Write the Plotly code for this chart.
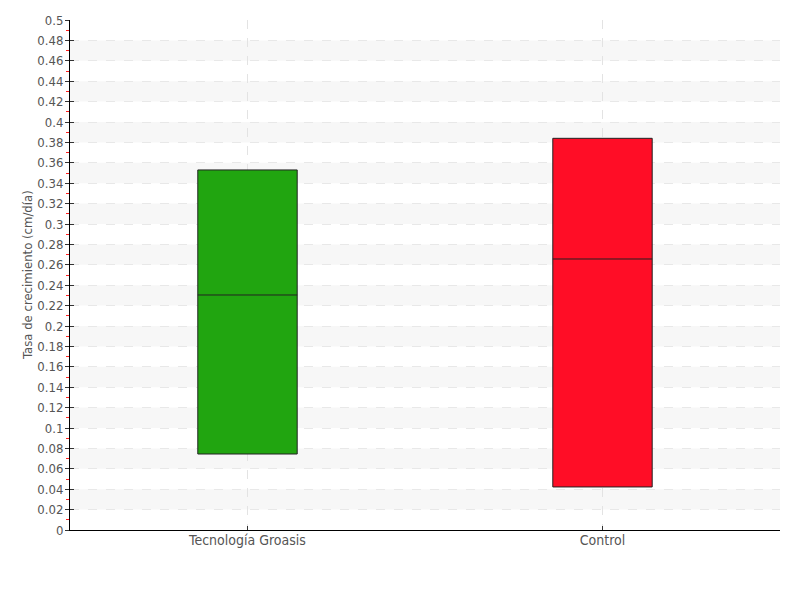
import plotly.graph_objects as go

grupos = ["Tecnología Groasis", "Control"]
q1 = [0.0745, 0.0422]
mediana = [0.2304, 0.2657]
q3 = [0.353, 0.384]
colores = ["#21a510", "#ff0d26"]

y_min, y_max, paso = 0, 0.5, 0.02

fuente = "DejaVu Sans Condensed, Liberation Sans Narrow, sans-serif"

fig = go.Figure()
for i, g in enumerate(grupos):
    fig.add_trace(go.Box(
        x=[g], q1=[q1[i]], median=[mediana[i]], q3=[q3[i]],
        lowerfence=[q1[i]], upperfence=[q3[i]],
        fillcolor=colores[i], line=dict(color="#222222", width=1),
        width=0.28, whiskerwidth=0, showlegend=False, hoverinfo="skip",
    ))

# bandas alternas
n = int(round((y_max - y_min) / paso))
for k in range(1, n, 2):
    fig.add_shape(type="rect", xref="paper", yref="y", x0=0, x1=1,
                  y0=y_min + k * paso, y1=y_min + (k + 1) * paso,
                  fillcolor="#f7f7f7", line_width=0, layer="below")

# título del eje y como anotación para colocarlo junto a las etiquetas
fig.add_annotation(text="Tasa de crecimiento (cm/día)", xref="paper", yref="paper",
                   x=0, y=0.5, xanchor="center", yanchor="middle", xshift=-43,
                   textangle=-90, showarrow=False, font=dict(size=13, color="#555555"))

# la página añade 8px de margen al body
fig.update_layout(
    width=800, height=600,
    margin=dict(l=62, r=28, t=12, b=78),
    plot_bgcolor="rgba(0,0,0,0)", paper_bgcolor="white",
    font=dict(family=fuente, size=14, color="#555555"),
    xaxis=dict(range=[-0.5, 1.5], showline=True, linecolor="#000000", linewidth=1,
               ticks="inside", ticklen=4, tickcolor="#333333", automargin=False,
               ticklabelstandoff=-3,
               showgrid=True, gridcolor="#e3e3e3", griddash="dash", zeroline=False,
               tickfont=dict(size=14, color="#555555")),
    yaxis=dict(range=[y_min, y_max], dtick=paso, tick0=0, showline=True, automargin=False,
               linecolor="#000000", linewidth=1, ticks="outside", ticklen=4,
               tickcolor="#333333", showgrid=True, gridcolor="#e8e8e8", griddash="dash",
               zeroline=False, ticklabelstandoff=-1,
               minor=dict(ticks="outside", dtick=paso / 2, tick0=0.01, ticklen=3, tickcolor="#ff2020"),
               tickfont=dict(size=13, color="#555555")),
    yaxis2=dict(range=[y_min, y_max], dtick=paso, tick0=0, overlaying="y", side="left",
                ticks="inside", ticklen=4, tickcolor="#333333", showticklabels=False,
                showgrid=False, zeroline=False, showline=False, automargin=False),
)
fig.add_trace(go.Scatter(x=[grupos[0]], y=[None], yaxis="y2", showlegend=False, hoverinfo="skip"))

fig.write_html("out.html")
